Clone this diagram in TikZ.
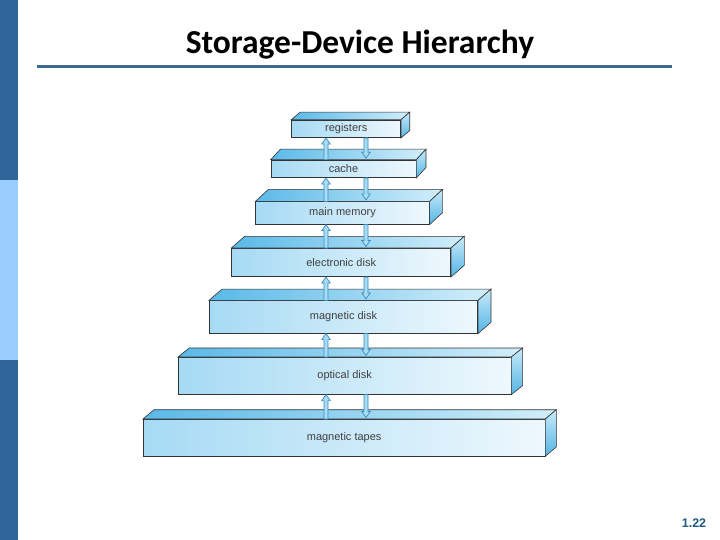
\documentclass[tikz,border=0pt]{standalone}
\usepackage{fontspec}
\setmainfont{Liberation Sans}
\newfontfamily\titlefont{Carlito}
\usetikzlibrary{calc}
\definecolor{bardark}{HTML}{2F6598}
\definecolor{barlight}{HTML}{99CCFF}
\definecolor{rulecol}{HTML}{3C6A92}
\definecolor{frontL}{HTML}{A6DAF4}
\definecolor{frontR}{HTML}{EEF8FD}
\definecolor{topL}{HTML}{5AB9E8}
\definecolor{topR}{HTML}{D2EEFA}
\definecolor{sideT}{HTML}{C8EAF9}
\definecolor{sideB}{HTML}{55B5E5}
\definecolor{edge}{HTML}{333333}
\definecolor{arrfill}{HTML}{A8DCF3}
\definecolor{arredge}{HTML}{3A8CC0}
\definecolor{pagecol}{HTML}{1F5A85}
\tikzset{
  slab/.style={draw=edge, line width=0.6pt, inner sep=0pt, left color=frontL, right color=frontR,
    font=\fontsize{11}{13}\selectfont, text=black!75},
  topface/.style={draw=edge, line width=0.6pt, left color=topL, right color=topR},
  sideface/.style={draw=edge, line width=0.6pt, top color=sideT, bottom color=sideB},
  arr/.style={draw=arredge, fill=arrfill, line width=0.7pt, line join=miter}
}
% slab: name, x1, x2, ytop, ybot, dx, dy, label
\newcommand{\myslab}[8]{%
  \node[slab, minimum width={(#3-#2)*1pt}, minimum height={(#5-#4)*1pt}] (#1) at ({(#2+#3)/2},{(#4+#5)/2}) {#8};
  \shade[topface] (#1.north west) -- ++(#6pt,#7pt) -- ([shift={(#6pt,#7pt)}]#1.north east) -- (#1.north east) -- cycle;
  \shade[sideface] (#1.north east) -- ++(#6pt,#7pt) -- ([shift={(#6pt,#7pt)}]#1.south east) -- (#1.south east) -- cycle;
}
% up arrow: from lower node (front top) to upper node (bottom)
\newcommand{\myup}[2]{%
  \coordinate (t) at (326,0 |- #2.south);
  \coordinate (b) at (326,0 |- #1.north);
  \filldraw[arr] ($(b)+(-2pt,0)$) -- ($(t)+(-2pt,-6pt)$) -- ($(t)+(-4.2pt,-6pt)$) -- (t)
     -- ($(t)+(4.2pt,-6pt)$) -- ($(t)+(2pt,-6pt)$) -- ($(b)+(2pt,0)$) -- cycle;
}
% down arrow: from upper node (bottom) to lower node (front top)
\newcommand{\mydown}[2]{%
  \coordinate (b) at (366,0 |- #1.south);
  \coordinate (t0) at (366,0 |- #2.north);
  \coordinate (t) at ($(t0)+(0,1.5pt)$);
  \filldraw[arr] ($(b)+(-2pt,0)$) -- ($(t)+(-2pt,6pt)$) -- ($(t)+(-4.2pt,6pt)$) -- (t)
     -- ($(t)+(4.2pt,6pt)$) -- ($(t)+(2pt,6pt)$) -- ($(b)+(2pt,0)$) -- cycle;
}
\begin{document}
\begin{tikzpicture}[x=1pt,y=-1pt]
\useasboundingbox (0,0) rectangle (720,540);
\fill[white] (0,0) rectangle (720,540);
% left bar
\fill[bardark] (0,0) rectangle (18,180);
\fill[barlight] (0,180) rectangle (18,360);
\fill[bardark] (0,360) rectangle (18,540);
% title
\node[font=\titlefont\bfseries\fontsize{33.5}{38}\selectfont, text=black] (title) at (360,45) {Storage-Device Hierarchy};
\draw[rulecol, line width=3pt] (37,67) -- (672,67);
% slabs
\myslab{reg}{291.7}{400.7}{120}{137.7}{8.7}{7.5}{registers}
\myslab{cache}{271}{416}{160}{177.7}{9.7}{10.5}{cache}
\myslab{mem}{255.7}{429.3}{201.7}{224.3}{13}{12}{main memory}
\myslab{edisk}{231.7}{450.7}{248.3}{276.7}{13.3}{11.7}{electronic disk}
\myslab{mdisk}{209.3}{477.7}{300.7}{333.3}{13}{11.3}{magnetic disk}
\myslab{odisk}{178.3}{511}{357.3}{394.3}{11.3}{9}{optical disk}
\myslab{tape}{143.3}{545}{419.3}{456}{11}{9.3}{magnetic tapes}
% arrows
\myup{cache}{reg}   \mydown{reg}{cache}
\myup{mem}{cache}   \mydown{cache}{mem}
\myup{edisk}{mem}   \mydown{mem}{edisk}
\myup{mdisk}{edisk} \mydown{edisk}{mdisk}
\myup{odisk}{mdisk} \mydown{mdisk}{odisk}
\myup{tape}{odisk}  \mydown{odisk}{tape}
% page number
\node[font=\bfseries\fontsize{12.5}{14}\selectfont, text=pagecol] (page) at (694,523) {1.22};
\end{tikzpicture}
\end{document}
